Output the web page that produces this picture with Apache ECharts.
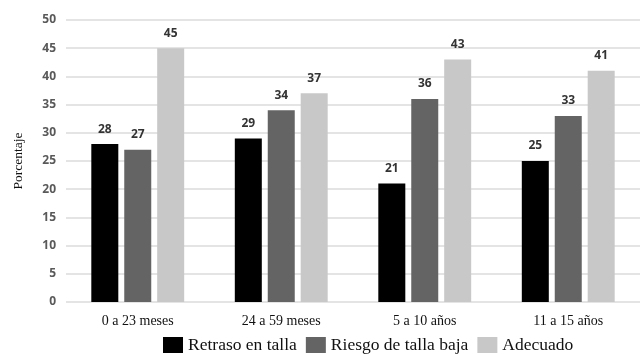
<!DOCTYPE html>
<html>
<head>
<meta charset="utf-8">
<script src="https://cdn.jsdelivr.net/npm/echarts@6/dist/echarts.min.js"></script>
<style>
  html, body { margin: 0; padding: 0; background: #fff; }
  #chart { width: 640px; height: 354px; }
</style>
</head>
<body>
<div id="chart"></div>
<script>
// Talla para la edad por grupo etario (%)
const categories = ['0 a 23 meses', '24 a 59 meses', '5 a 10 años', '11 a 15 años'];
const retraso = [28, 29, 21, 25];
const riesgo = [27, 34, 36, 33];
const adecuado = [45, 37, 43, 41];
const seriesNames = ['Retraso en talla', 'Riesgo de talla baja', 'Adecuado'];
const seriesColors = ['#000000', '#646464', '#c8c8c8'];
const yTicks = { min: 0, max: 50, interval: 5 };

const SERIF = 'Liberation Serif';
const SANS = 'Open Sans';

const chart = echarts.init(document.getElementById('chart'));

const valueLabel = {
  show: true,
  position: 'top',
  distance: 9,
  fontFamily: SANS,
  fontWeight: 'bold',
  fontSize: 12,
  color: '#333333'
};

function makeSeries(name, data, color) {
  return {
    name: name,
    type: 'bar',
    data: data,
    barWidth: 27,
    barGap: '22%',
    itemStyle: { color: color },
    label: valueLabel
  };
}

chart.setOption({
  animation: false,
  textStyle: { fontFamily: SERIF },
  grid: { left: 66, right: -11, top: 20, bottom: 52 },
  legend: {
    left: 158,
    bottom: -5,
    itemWidth: 20,
    itemHeight: 16,
    itemGap: 9,
    icon: 'rect',
    textStyle: { fontFamily: SERIF, fontSize: 17.5, color: '#111111' },
    data: seriesNames
  },
  xAxis: {
    type: 'category',
    data: categories,
    axisLine: { show: false },
    axisTick: { show: false },
    axisLabel: {
      margin: 12,
      fontFamily: SERIF,
      fontSize: 14,
      color: '#111111'
    }
  },
  yAxis: {
    type: 'value',
    min: yTicks.min,
    max: yTicks.max,
    interval: yTicks.interval,
    name: 'Porcentaje',
    nameLocation: 'middle',
    nameGap: 41,
    nameRotate: 90,
    nameTextStyle: { fontFamily: SERIF, fontSize: 13.5, color: '#111111' },
    axisLine: { show: false },
    axisTick: { show: false },
    axisLabel: {
      margin: 10,
      fontFamily: SANS,
      fontWeight: 'bold',
      fontSize: 12,
      color: '#595959'
    },
    splitLine: { lineStyle: { color: '#e4e4e4', width: 2 } }
  },
  series: [
    makeSeries(seriesNames[0], retraso, seriesColors[0]),
    makeSeries(seriesNames[1], riesgo, seriesColors[1]),
    makeSeries(seriesNames[2], adecuado, seriesColors[2])
  ]
});
</script>
</body>
</html>
